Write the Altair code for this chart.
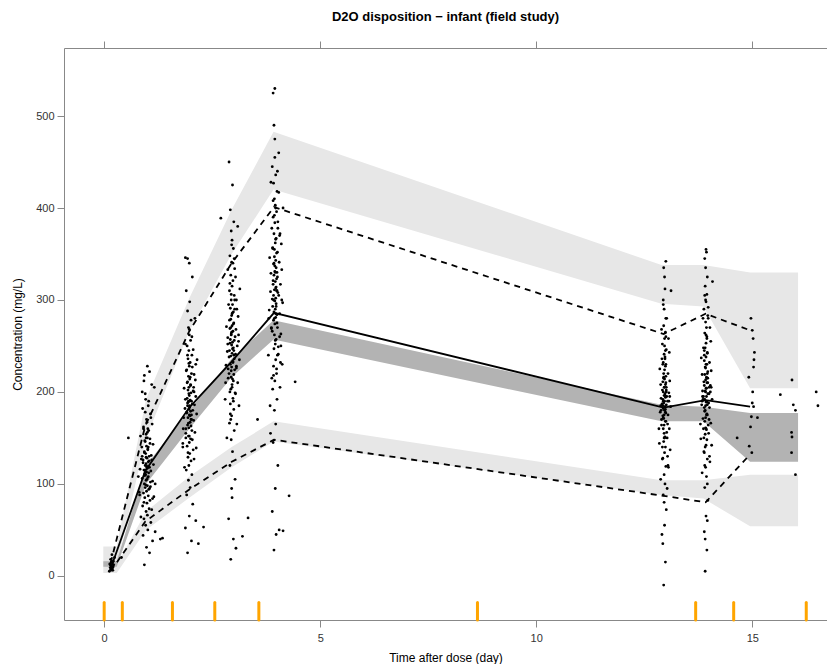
import altair as alt
import pandas as pd

TITLE = "D2O disposition \u2212 infant (field study)"
FONT = "Liberation Sans"

# bin boundaries (orange ticks)
bin_edges = [0, 0.42, 1.58, 2.56, 3.58, 8.64, 13.69, 14.57, 16.25]

# confidence bands of simulated percentiles
band_x = [-0.02, 0.29, 0.97, 1.97, 2.95, 3.92, 12.9, 13.87, 14.95, 16.06]
up_lo = [12, 12, 150, 266, 350, 420, 296, 293, 204, 204]
up_hi = [32, 32, 192, 302, 398, 483, 338, 338, 330, 330]
med_lo = [10, 10, 100, 160, 216, 257, 168, 168, 124, 124]
med_hi = [16, 16, 120, 180, 236, 278, 186, 184, 177, 177]
low_lo = [3, 3, 50, 85, 118, 146, 88, 84, 54, 54]
low_hi = [12, 12, 70, 108, 140, 168, 104, 104, 110, 110]

# observed percentiles
line_x = [0.15, 0.95, 1.97, 2.95, 3.93, 12.95, 13.92, 14.95]
obs_med = [8, 114, 183, 233, 286, 183, 191, 184]
obs_p95 = [14, 163, 266, 340, 401, 263, 285, 267]
obs_p05 = [5, 59, 94, 124, 148, 87, 80, 132]

# observed concentrations
t_A = [0.12, 0.15, 0.18, 0.14, 0.20, 0.16, 0.22, 0.13, 0.19, 0.17, 0.21, 0.15, 0.24, 0.18, 0.16, 0.14, 0.20]
c_A = [5, 7, 8, 9, 10, 11, 12, 13, 14, 15, 16, 18, 20, 23, 9, 12, 6]

t_B = [0.93, 1.05, 0.98, 1.12, 0.90, 1.01, 0.96, 1.08, 0.92, 1.00, 0.97, 1.04, 0.89, 0.99, 1.06, 0.94, 1.02, 0.91, 0.98, 1.03,
       0.95, 1.00, 0.93, 1.07, 0.97, 0.99, 1.01, 0.94, 0.96, 1.03, 0.98, 0.92, 1.00, 1.05, 0.95, 0.97, 1.02, 0.90, 0.99, 1.04,
       0.96, 0.93, 1.01, 0.98, 1.06, 0.94, 1.00, 0.97, 1.03, 0.91, 0.99, 1.08, 0.95, 1.02, 0.96, 0.88, 1.10, 0.93, 1.00, 1.18]
c_B = [12, 25, 31, 38, 44, 50, 55, 58, 62, 66, 70, 73, 76, 79, 82, 85, 87, 90, 92, 94,
       96, 98, 100, 102, 104, 105, 107, 109, 110, 112, 113, 115, 117, 118, 120, 122, 124, 126, 128, 130,
       133, 135, 138, 141, 144, 147, 150, 154, 158, 162, 167, 172, 178, 185, 192, 200, 208, 218, 228, 48]
t_B2 = [0.85, 1.10, 0.92, 1.15, 0.81, 1.05, 0.96, 1.12, 0.88, 1.02, 0.94, 1.08, 0.83, 0.99, 1.14, 0.90, 1.04, 0.86, 0.97, 1.09,
        0.93, 1.01, 0.87, 1.13, 0.95, 1.06, 0.84, 1.00, 0.91, 1.11, 0.98, 1.07, 0.89, 1.03, 0.95, 1.16, 0.92, 1.05, 1.18, 0.79,
        0.99, 1.10, 0.82, 1.02, 0.94, 1.07, 0.88, 1.12, 0.97, 1.01]
c_B2 = [64, 72, 80, 86, 91, 95, 99, 103, 106, 108, 111, 114, 116, 119, 121, 123, 125, 127, 129, 131,
        134, 137, 140, 143, 146, 149, 152, 156, 160, 165, 170, 176, 182, 190, 198, 205, 212, 222, 100, 108,
        118, 126, 88, 140, 115, 97, 130, 84, 150, 160]

t_C = [1.93, 2.02, 1.88, 1.97, 2.05, 1.91, 1.99, 1.95, 2.03, 1.90, 1.96, 2.01, 1.94, 1.98, 2.06, 1.92, 1.97, 2.00, 1.95, 1.89,
       2.03, 1.96, 1.93, 1.99, 2.02, 1.94, 1.97, 1.91, 2.00, 1.96, 1.98, 1.93, 2.04, 1.95, 1.99, 1.92, 1.97, 2.01, 1.94, 1.96,
       2.00, 1.93, 1.98, 1.95, 2.02, 1.91, 1.97, 1.99, 1.94, 2.03, 1.96, 1.92, 2.00, 1.97, 1.95, 2.01, 1.93, 1.98, 1.90, 2.04,
       1.97, 1.93, 2.12, 1.82, 2.08]
c_C = [25, 38, 52, 65, 78, 88, 96, 104, 110, 115, 120, 125, 129, 133, 137, 141, 145, 149, 152, 155,
       158, 161, 164, 167, 170, 172, 175, 177, 179, 181, 183, 185, 187, 189, 191, 193, 196, 199, 202, 205,
       208, 211, 214, 217, 220, 224, 228, 232, 236, 240, 245, 250, 256, 262, 270, 278, 288, 298, 310, 325,
       340, 345, 60, 140, 200]
t_C2 = [1.86, 2.08, 1.94, 2.13, 1.82, 2.04, 1.97, 2.10, 1.89, 2.01, 1.95, 2.07, 1.84, 1.99, 2.14, 1.91, 2.05, 1.87, 1.98, 2.09,
        1.93, 2.02, 1.88, 2.12, 1.96, 2.06, 1.85, 2.00, 1.92, 2.11, 1.99, 2.08, 1.90, 2.04, 1.96, 2.15, 1.93, 2.06, 1.88, 2.03,
        1.97, 2.10, 1.83, 2.02, 1.95, 2.07, 1.89, 2.12, 1.98, 2.01]
c_C2 = [118, 127, 134, 139, 144, 148, 152, 156, 160, 163, 166, 169, 172, 174, 176, 178, 180, 182, 184, 186,
        188, 190, 192, 195, 198, 201, 204, 207, 210, 213, 216, 219, 223, 227, 231, 235, 240, 246, 252, 260,
        268, 280, 160, 175, 190, 205, 150, 230, 185, 170]

t_D = [2.93, 2.99, 2.88, 2.96, 3.03, 2.91, 2.97, 2.94, 3.01, 2.90, 2.95, 3.00, 2.92, 2.98, 3.04, 2.93, 2.96, 2.99, 2.94, 2.89,
       3.02, 2.95, 2.92, 2.98, 3.01, 2.93, 2.96, 2.90, 2.99, 2.95, 2.97, 2.92, 3.03, 2.94, 2.98, 2.91, 2.96, 3.00, 2.93, 2.95,
       2.99, 2.92, 2.97, 2.94, 3.01, 2.90, 2.96, 2.98, 2.93, 3.02, 2.95, 2.91, 2.99, 2.96, 2.94, 3.00, 2.92, 2.97, 2.89, 3.05,
       2.95, 2.93, 3.06, 2.86, 3.02, 2.98, 2.91, 3.00, 2.94, 2.97]
c_D = [18, 40, 62, 85, 105, 120, 135, 148, 158, 166, 174, 181, 187, 193, 198, 203, 208, 212, 216, 220,
       224, 227, 230, 233, 236, 239, 242, 245, 248, 251, 254, 257, 260, 263, 266, 269, 272, 275, 279, 283,
       287, 291, 295, 300, 305, 310, 315, 321, 327, 334, 341, 348, 356, 365, 375, 385, 398, 425, 450, 30,
       95, 170, 228, 252, 290, 340, 200, 245, 262, 214]
t_D2 = [2.84, 3.07, 2.92, 3.12, 2.80, 3.03, 2.96, 3.09, 2.87, 3.00, 2.94, 3.06, 2.82, 2.98, 3.13, 2.89, 3.04, 2.85, 2.97, 3.08,
        2.91, 3.01, 2.86, 3.11, 2.95, 3.05, 2.83, 2.99, 2.90, 3.10, 2.97, 3.07, 2.88, 3.02, 2.94, 3.14, 2.91, 3.04, 2.86, 3.01,
        2.95, 3.09, 2.81, 3.00, 2.93, 3.06, 2.87, 3.11, 2.96, 2.99]
c_D2 = [150, 165, 176, 185, 192, 199, 205, 210, 215, 219, 223, 226, 229, 232, 235, 238, 241, 244, 247, 250,
        253, 256, 259, 262, 265, 268, 271, 274, 278, 282, 286, 290, 295, 300, 306, 312, 318, 325, 333, 345,
        360, 380, 210, 240, 270, 300, 225, 255, 285, 190]

t_E = [3.93, 3.98, 3.89, 3.96, 4.02, 3.91, 3.97, 3.94, 4.00, 3.90, 3.95, 3.99, 3.92, 3.97, 4.03, 3.93, 3.96, 3.98, 3.94, 3.89,
       4.01, 3.95, 3.92, 3.97, 4.00, 3.93, 3.96, 3.90, 3.98, 3.95, 3.97, 3.92, 4.02, 3.94, 3.98, 3.91, 3.96, 3.99, 3.93, 3.95,
       3.98, 3.92, 3.97, 3.94, 4.01, 3.90, 3.96, 3.98, 3.93, 4.02, 3.95, 3.91, 3.99, 3.96, 3.94, 4.00, 3.92, 3.97, 3.89, 4.04,
       3.95, 3.93, 3.91, 3.95, 4.05, 3.85, 4.01, 3.97, 3.92, 4.00, 3.94, 3.97, 4.06, 3.88, 3.99, 4.08]
c_E = [28, 45, 70, 95, 120, 145, 165, 180, 192, 203, 212, 220, 228, 235, 241, 247, 252, 257, 262, 266,
       270, 274, 278, 281, 284, 287, 290, 293, 296, 299, 302, 305, 308, 311, 314, 317, 320, 323, 327, 331,
       335, 339, 343, 347, 352, 357, 362, 367, 372, 378, 384, 390, 396, 403, 410, 418, 427, 436, 445, 460,
       475, 490, 525, 530, 50, 155, 240, 285, 300, 330, 355, 400, 260, 215, 310, 232]
t_E2 = [3.84, 4.07, 3.92, 4.12, 3.80, 4.03, 3.96, 4.09, 3.87, 4.00, 3.94, 4.06, 3.82, 3.98, 4.13, 3.89, 4.04, 3.85, 3.97, 4.08,
        3.91, 4.01, 3.86, 4.11, 3.95, 4.05, 3.83, 3.99, 3.90, 4.10, 3.97, 4.07, 3.88, 4.02, 3.94, 4.14, 3.91, 4.04, 3.86, 4.01,
        3.95, 4.09, 3.81, 4.00, 3.93, 4.06, 3.87, 4.11, 3.96, 3.99]
c_E2 = [185, 205, 218, 230, 240, 249, 256, 263, 269, 275, 280, 285, 289, 293, 297, 301, 305, 309, 313, 317,
        321, 325, 329, 333, 337, 341, 346, 351, 356, 361, 366, 372, 378, 385, 392, 400, 408, 417, 428, 440,
        455, 250, 280, 310, 340, 370, 270, 300, 330, 225]

t_F = [12.95, 12.99, 12.93, 12.97, 13.01, 12.94, 12.98, 12.96, 13.00, 12.92, 12.97, 12.99, 12.95, 12.98, 13.02, 12.94, 12.96, 12.99, 12.95, 12.93,
       13.00, 12.97, 12.94, 12.98, 13.01, 12.95, 12.97, 12.93, 12.99, 12.96, 12.98, 12.94, 13.01, 12.96, 12.99, 12.93, 12.97, 13.00, 12.95, 12.97,
       12.99, 12.94, 12.98, 12.96, 13.01, 12.92, 12.97, 12.99, 12.95, 13.00, 12.96, 12.94, 12.98, 12.97, 12.95, 13.00, 12.91, 13.03, 12.96, 12.99,
       12.93, 13.02, 12.95, 12.98, 12.90, 13.04, 12.97, 12.94, 13.00, 12.96]
c_F = [-10, 15, 35, 55, 72, 88, 100, 110, 119, 127, 134, 140, 146, 151, 156, 160, 164, 168, 171, 174,
       177, 180, 182, 184, 186, 188, 190, 192, 194, 196, 198, 200, 202, 205, 208, 211, 214, 217, 220, 224,
       228, 232, 236, 241, 246, 252, 258, 265, 272, 280, 290, 300, 312, 325, 335, 342, 45, 95, 150, 178,
       185, 195, 215, 238, 170, 130, 205, 190, 260, 80]
t_F2 = [12.88, 13.06, 12.93, 13.10, 12.85, 13.03, 12.96, 13.08, 12.90, 13.00, 12.94, 13.05, 12.87, 12.99, 13.11, 12.91, 13.04, 12.89, 12.98, 13.07,
        12.92, 13.01, 12.88, 13.09, 12.95, 13.05, 12.86, 13.00, 12.91, 13.08, 12.97, 13.06, 12.90, 13.02, 12.94, 13.12, 12.92, 13.04, 12.88, 13.01,
        12.96, 13.07, 12.84, 13.00, 12.93, 13.05, 12.89, 13.09, 12.97, 12.99]
c_F2 = [105, 118, 128, 137, 144, 150, 155, 160, 164, 168, 172, 175, 178, 181, 184, 187, 190, 193, 196, 199,
        202, 205, 208, 212, 216, 220, 225, 230, 236, 243, 250, 258, 268, 280, 295, 310, 140, 165, 185, 200,
        175, 190, 160, 210, 230, 120, 180, 195, 150, 245]

t_G = [13.91, 13.95, 13.89, 13.93, 13.97, 13.90, 13.94, 13.92, 13.96, 13.88, 13.93, 13.95, 13.91, 13.94, 13.98, 13.90, 13.92, 13.95, 13.91, 13.89,
       13.96, 13.93, 13.90, 13.94, 13.97, 13.91, 13.93, 13.89, 13.95, 13.92, 13.94, 13.90, 13.97, 13.92, 13.95, 13.89, 13.93, 13.96, 13.91, 13.93,
       13.95, 13.90, 13.94, 13.92, 13.97, 13.88, 13.93, 13.95, 13.91, 13.96, 13.92, 13.90, 13.94, 13.93, 13.91, 13.96, 13.87, 13.99, 13.92, 13.95,
       13.89, 13.98, 13.91, 13.94, 13.86, 14.00, 13.93, 13.90, 13.96, 13.92]
c_G = [5, 28, 48, 65, 82, 96, 108, 118, 127, 135, 142, 148, 154, 159, 164, 168, 172, 176, 180, 183,
       186, 189, 192, 195, 198, 201, 204, 207, 210, 213, 216, 219, 222, 226, 230, 234, 238, 243, 248, 253,
       258, 264, 270, 276, 283, 290, 298, 306, 315, 325, 335, 345, 352, 355, 40, 100, 160, 188, 200, 215,
       245, 280, 140, 175, 192, 205, 230, 120, 60, 300]
t_G2 = [13.84, 14.02, 13.89, 14.06, 13.81, 13.99, 13.92, 14.04, 13.86, 13.96, 13.90, 14.01, 13.83, 13.95, 14.07, 13.87, 14.00, 13.85, 13.94, 14.03,
        13.88, 13.97, 13.84, 14.05, 13.91, 14.01, 13.82, 13.96, 13.87, 14.04, 13.93, 14.02, 13.86, 13.98, 13.90, 14.08, 13.88, 14.00, 13.84, 13.97,
        13.92, 14.03, 13.80, 13.96, 13.89, 14.01, 13.85, 14.05, 13.93, 13.95]
c_G2 = [112, 124, 134, 142, 149, 155, 161, 166, 171, 175, 179, 183, 186, 189, 192, 195, 198, 201, 204, 207,
        211, 215, 219, 223, 227, 232, 237, 242, 248, 255, 262, 270, 280, 292, 305, 320, 150, 170, 190, 210,
        185, 200, 165, 220, 240, 130, 195, 205, 160, 260]

t_H = [14.97, 15.00, 15.02, 15.05, 15.04, 15.03, 14.92, 15.00, 15.03, 14.98, 15.12, 14.99, 14.65, 14.93, 15.01, 14.96]
c_H = [280, 267, 258, 243, 235, 227, 216, 188, 184, 173, 172, 134, 150, 141, 200, 162]

t_I = [15.92, 15.65, 15.95, 16.00, 15.91, 15.92, 15.91, 16.00, 16.48, 16.52]
c_I = [213, 197, 186, 180, 156, 151, 134, 110, 200, 185]

t_S = [0.56, 1.30, 1.35, 2.30, 2.18, 3.20, 3.33, 4.14, 4.28, 4.42, 2.70, 1.88, 0.40, 3.55]
c_S = [150, 40, 41, 53, 35, 43, 63, 49, 87, 211, 389, 346, 20, 170]

obs_t = t_A + t_B + t_B2 + t_C + t_C2 + t_D + t_D2 + t_E + t_E2 + t_F + t_F2 + t_G + t_G2 + t_H + t_I + t_S
obs_c = c_A + c_B + c_B2 + c_C + c_C2 + c_D + c_D2 + c_E + c_E2 + c_F + c_F2 + c_G + c_G2 + c_H + c_I + c_S

X_DOM = [-0.93, 16.73]
Y_DOM = [-48, 574]

xs = alt.Scale(domain=X_DOM, nice=False, zero=False)
ys = alt.Scale(domain=Y_DOM, nice=False, zero=False)

bands = pd.DataFrame({"x": band_x * 3,
                      "lo": up_lo + med_lo + low_lo,
                      "hi": up_hi + med_hi + low_hi,
                      "band": ["p95"] * len(band_x) + ["p50"] * len(band_x) + ["p05"] * len(band_x)})
lines = pd.DataFrame({"x": line_x, "med": obs_med, "p95": obs_p95, "p05": obs_p05})
obs = pd.DataFrame({"t": obs_t, "c": obs_c})
edges = pd.DataFrame({"x": bin_edges, "y": [-29] * len(bin_edges), "y2": [-48] * len(bin_edges)})

bottom_axis = alt.Axis(values=[0, 5, 10, 15], title="Time after dose (day)", format="d")
top_axis = alt.Axis(values=[0, 5, 10, 15], orient="top", labels=False, title=None)
left_axis = alt.Axis(values=[0, 100, 200, 300, 400, 500], title="Concentration (mg/L)")


def yenc(field):
    return alt.Y(field, scale=ys, axis=left_axis)


light = alt.Chart(bands).transform_filter("datum.band != 'p50'").mark_area(color="#E7E7E7", opacity=1).encode(
    x=alt.X("x:Q", scale=xs, axis=bottom_axis),
    y=yenc("lo:Q"),
    y2="hi:Q",
    detail="band:N",
)
dark = alt.Chart(bands).transform_filter("datum.band == 'p50'").mark_area(color="#B3B3B3", opacity=1).encode(
    x=alt.X("x:Q", scale=xs, axis=None),
    y=yenc("lo:Q"),
    y2="hi:Q",
)
pts = alt.Chart(obs).mark_circle(size=8, color="black", opacity=1).encode(
    x=alt.X("t:Q", scale=xs, axis=None),
    y=yenc("c:Q"),
)
med_line = alt.Chart(lines).mark_line(color="black", strokeWidth=1.8).encode(
    x=alt.X("x:Q", scale=xs, axis=None),
    y=yenc("med:Q"),
)
p95_line = alt.Chart(lines).mark_line(color="black", strokeWidth=1.8, strokeDash=[6, 5]).encode(
    x=alt.X("x:Q", scale=xs, axis=None),
    y=yenc("p95:Q"),
)
p05_line = alt.Chart(lines).mark_line(color="black", strokeWidth=1.8, strokeDash=[6, 5]).encode(
    x=alt.X("x:Q", scale=xs, axis=None),
    y=yenc("p05:Q"),
)
ticks = alt.Chart(edges).mark_rule(color="#FFA500", strokeWidth=3, strokeCap="round").encode(
    x=alt.X("x:Q", scale=xs, axis=top_axis),
    y=yenc("y:Q"),
    y2="y2:Q",
)

chart = alt.layer(light, dark, pts, med_line, p95_line, p05_line, ticks).resolve_axis(
    x="independent"
).properties(
    width=763,
    height=572,
    autosize=alt.AutoSizeParams(type="none"),
    padding={"left": 56, "top": 40, "right": 0, "bottom": 44},
    title=alt.TitleParams(TITLE, fontSize=13, fontWeight="bold", font=FONT, offset=17, color="black"),
).configure_view(
    stroke="#888888", strokeWidth=1
).configure_axis(
    grid=False,
    domain=False,
    tickColor="#888888",
    tickSize=7,
    labelFont=FONT,
    labelFontSize=11,
    labelColor="#333333",
    labelPadding=3,
    titleFont=FONT,
    titleFontSize=12,
    titleFontWeight="normal",
    titleColor="black",
).configure_axisY(titlePadding=11).configure_axisX(titlePadding=9, labelPadding=5)

chart.save("out.html", embed_options={"renderer": "svg", "actions": False})
